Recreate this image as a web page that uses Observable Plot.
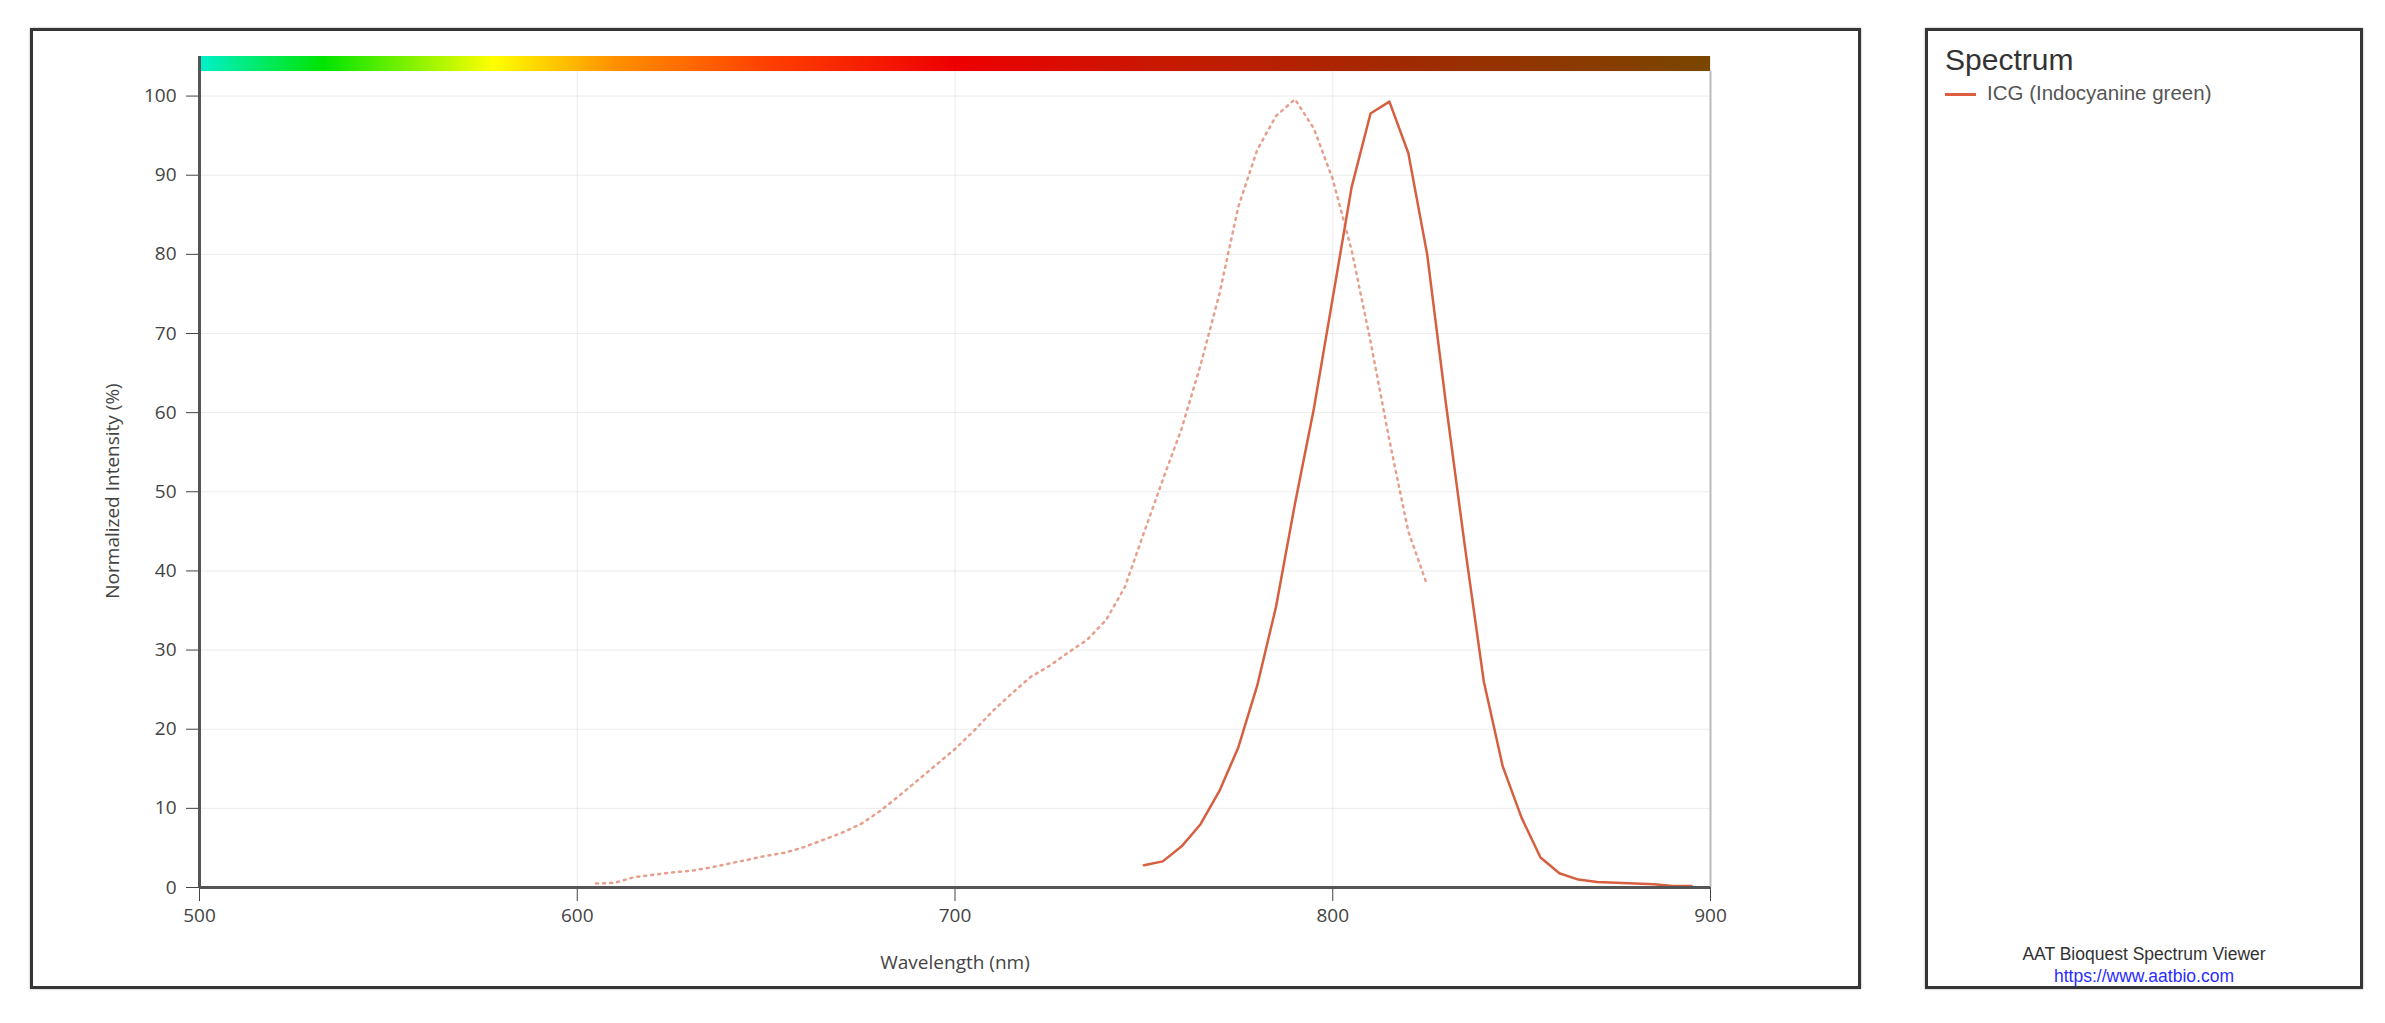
<!DOCTYPE html>
<html>
<head>
<meta charset="utf-8">
<script src="https://cdn.jsdelivr.net/npm/d3@7"></script>
<script src="https://cdn.jsdelivr.net/npm/@observablehq/plot@0.6"></script>
<style>
  body { margin: 0; background: #fff; width: 2385px; height: 1023px; position: relative; overflow: hidden;
         font-family: "Liberation Sans", Arial, sans-serif; }
  .panel { position: absolute; box-sizing: border-box; border: 3px solid #363636;
           box-shadow: 0 0 2px rgba(0,0,0,0.35); background: #fff; }
  #chart { left: 30px; top: 28px; width: 1831px; height: 961px; }
  #legend { left: 1925px; top: 28px; width: 438px; height: 961px; }
  #chart svg { position: absolute; left: 0; top: 0; }
  .abs { position: absolute; white-space: nowrap; line-height: 1; }
  #ltitle { left: 17px; top: 14px; font-size: 30px; color: #333; }
  #lswatch { left: 17px; top: 62px; width: 31px; height: 3px; background: #dd5e3f; }
  #ltext { left: 59px; top: 52px; font-size: 20.5px; color: #555; }
  #foot1 { left: 0; width: 100%; text-align: center; top: 915px; font-size: 17.5px; color: #333; }
  #foot2 { left: 0; width: 100%; text-align: center; top: 937px; font-size: 17.5px; color: #2b2bff; }
</style>
</head>
<body>
<div id="chart" class="panel"></div>
<div id="legend" class="panel">
  <div id="ltitle" class="abs">Spectrum</div>
  <div id="lswatch" class="abs"></div>
  <div id="ltext" class="abs">ICG (Indocyanine green)</div>
  <div id="foot1" class="abs">AAT Bioquest Spectrum Viewer</div>
  <div id="foot2" class="abs">https://www.aatbio.com</div>
</div>
<script>
// Excitation spectrum (dotted)
const exWl  = [605, 610, 615, 620, 625, 630, 635, 640, 645, 650, 655, 660, 665, 670, 675, 680, 685, 690, 695, 700,
               705, 710, 715, 720, 725, 730, 735, 740, 745, 750, 755, 760, 765, 770, 775, 780, 785, 790, 795, 800,
               805, 810, 815, 820, 825];
const exVal = [0.5, 0.6, 1.3, 1.6, 1.9, 2.1, 2.5, 3.0, 3.5, 4.0, 4.4, 5.1, 6.0, 6.9, 8.0, 9.6, 11.5, 13.5, 15.5, 17.5,
               19.8, 22.3, 24.5, 26.6, 28.0, 29.7, 31.3, 33.8, 38.0, 44.8, 51.5, 58.0, 66.0, 75.0, 86.0, 93.2, 97.5, 99.6, 95.9, 89.5,
               80.5, 69.0, 56.5, 45.0, 38.2];
// Emission spectrum (solid)
const emWl  = [750, 755, 760, 765, 770, 775, 780, 785, 790, 795, 800, 805, 810, 815, 820, 825, 830, 835, 840, 845,
               850, 855, 860, 865, 870, 875, 880, 885, 890, 895];
const emVal = [2.8, 3.3, 5.2, 8.0, 12.2, 17.7, 25.5, 35.5, 48.5, 60.5, 74.5, 88.5, 97.8, 99.3, 92.8, 80.0, 61.0, 43.0, 26.0, 15.3,
               8.8, 3.8, 1.8, 1.0, 0.7, 0.6, 0.5, 0.4, 0.2, 0.2];
const xTicks = [500, 600, 700, 800, 900];
const yTicks = [0, 10, 20, 30, 40, 50, 60, 70, 80, 90, 100];
// spectrum colour bar stops (wavelength, colour)
const specWl     = [500, 533, 578, 610, 650, 700, 760, 820, 900];
const specColors = ["#00f0cc", "#00e400", "#ffff00", "#ff9000", "#ff4000", "#ee0000", "#c41a00", "#a02a00", "#7a4600"];

const ex = exWl.map((w, i) => ({wl: w, v: exVal[i]}));
const em = emWl.map((w, i) => ({wl: w, v: emVal[i]}));
const lineColor = "#d65f40";

const plot = Plot.plot({
  width: 1825, height: 955,
  marginLeft: 166, marginRight: 148, marginTop: 25, marginBottom: 99,
  style: {fontSize: "19px", fontFamily: "'Open Sans', sans-serif", color: "#444", background: "transparent", overflow: "visible"},
  x: {domain: [500, 900], ticks: xTicks, tickSize: 14, tickPadding: 7, label: null, grid: true, tickFormat: d => String(d)},
  y: {domain: [0, 105], ticks: yTicks, tickSize: 13, tickPadding: 10, label: null, grid: true},
  marks: [
    Plot.ruleX([900], {y1: 0, y2: 103.1, stroke: "#bbb", strokeWidth: 2}),
    Plot.line(ex, {x: "wl", y: "v", stroke: lineColor, strokeOpacity: 0.6, strokeWidth: 2.5, strokeDasharray: "2,5"}),
    Plot.line(em, {x: "wl", y: "v", stroke: lineColor, strokeWidth: 2.5}),
    Plot.rect([0], {x1: 500, x2: 900, y1: 103.1, y2: 105, fill: "url(#spec)"}),
    Plot.ruleY([0], {stroke: "#555", strokeWidth: 3}),
    Plot.ruleX([500], {y1: 0, y2: 105, stroke: "#555", strokeWidth: 3}),
    Plot.text(["Wavelength (nm)"], {text: d => d, frameAnchor: "bottom", dy: 81, fill: "#444"}),
    Plot.text(["Normalized Intensity (%)"], {text: d => d, frameAnchor: "left", textAnchor: "middle", dx: -87, dy: 19, rotate: -90, fill: "#444"})
  ]
});

const xd = plot.scale("x").domain;
const grad = d3.select(plot).insert("defs", ":first-child")
  .append("linearGradient").attr("id", "spec")
  .attr("x1", 0).attr("x2", 1).attr("y1", 0).attr("y2", 0);
specWl.forEach((w, i) => grad.append("stop")
  .attr("offset", (w - xd[0]) / (xd[1] - xd[0]))
  .attr("stop-color", specColors[i]));

document.getElementById("chart").appendChild(plot);
</script>
</body>
</html>
